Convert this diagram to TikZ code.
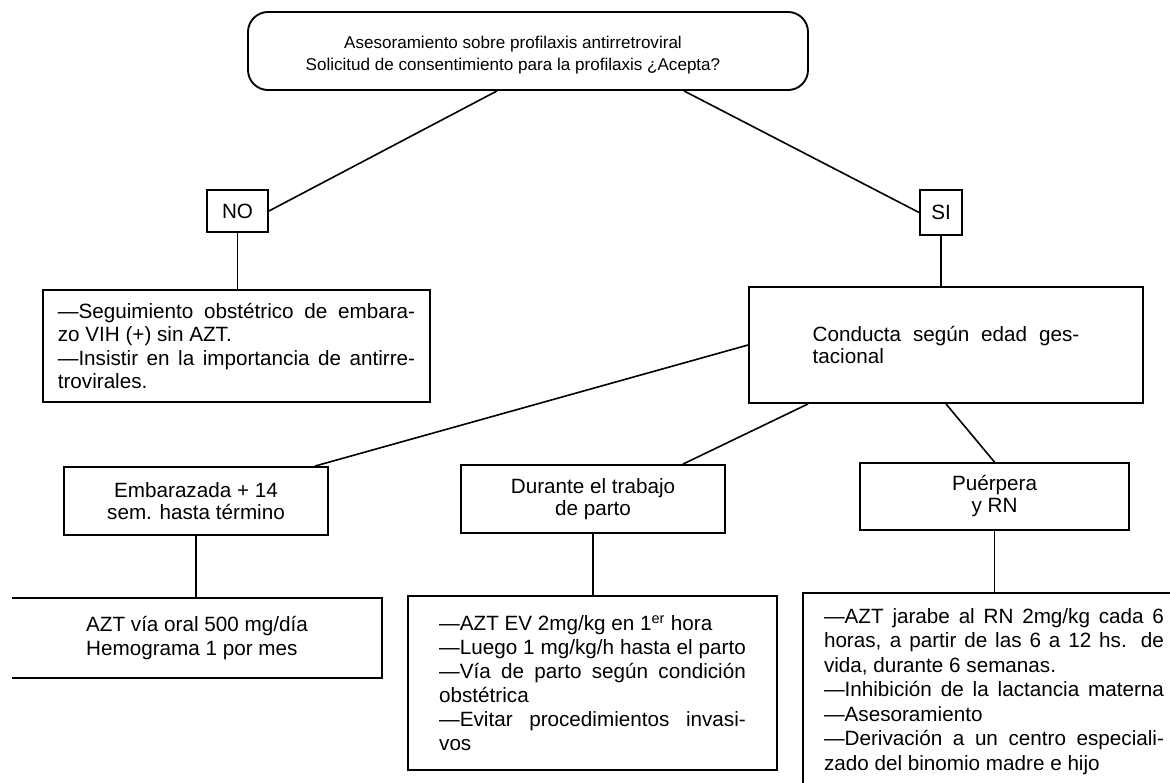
\documentclass[tikz,border=0pt]{standalone}
\usepackage{fontspec}
\setmainfont{Liberation Sans}
\newdimen\pxu \pxu=0.75pt
\newcommand\jline[2]{\makebox[#1][s]{#2}}
\begin{document}
\begin{tikzpicture}[x=0.75pt,y=-0.75pt,
  rbox/.style={draw, line width=1.4pt, inner sep=0pt},
  obox/.style={inner sep=0pt},
  bline/.style={line width=1.4pt},
  conn/.style={line width=1.2pt},
  ftop/.style={font=\fontsize{12.8pt}{16.5pt}\selectfont},
  fmid/.style={font=\fontsize{15.5pt}{16.5pt}\selectfont},
  fbody/.style={font=\fontsize{15.5pt}{18pt}\selectfont}]
\useasboundingbox (0,0) rectangle (1170,782);
\clip (0,0) rectangle (1170,782);
\fill[white] (0,0) rectangle (1170,782);

\node[rbox, rounded corners=15pt, minimum width=420pt, minimum height=58.5pt] (top) at (528,51) {};
\node[ftop, inner sep=0pt, align=center] (toptext) at (513,55)
  {Asesoramiento sobre profilaxis antirretroviral\\Solicitud de consentimiento para la profilaxis ¿Acepta?};

\node[rbox, fbody, minimum width=45.75pt, minimum height=31.5pt] (no) at (237.5,211) {NO};
\node[rbox, fbody, minimum width=31.5pt, minimum height=33.75pt] (si) at (941,212.5) {SI};

\node[rbox, font=\fontsize{15.5pt}{17.5pt}\selectfont, minimum width=290.25pt, minimum height=84pt, align=left] (noout) at (236.5,346)
  {\jline{268pt}{—Seguimiento obstétrico de embara-}\\zo VIH (+) sin AZT.\\\jline{268pt}{—Insistir en la importancia de antirre-}\\trovirales.};

\node[rbox, fmid, minimum width=295.5pt, minimum height=87pt, align=left] (cond) at (946,345)
  {\jline{200pt}{Conducta según edad ges-}\\tacional};

\node[rbox, fmid, minimum width=198pt, minimum height=51pt, align=center] (emb) at (196,501)
  {Embarazada + 14\\sem. hasta término};
\node[rbox, fmid, minimum width=198pt, minimum height=51pt, align=center] (dur) at (593,499)
  {Durante el trabajo\\de parto};
\node[rbox, fmid, minimum width=201.75pt, minimum height=50.25pt, align=center] (pue) at (994.5,496.5)
  {Puérpera\\y RN};

\node[obox, fbody, minimum width=277.5pt, minimum height=60pt, align=left] (azt) at (197,638)
  {AZT vía oral 500 mg/día\\Hemograma 1 por mes};
\draw[bline] (azt.north west) -- (azt.north east) -- (azt.south east) -- (azt.south west);

\node[rbox, fbody, minimum width=276.75pt, minimum height=130.5pt, align=left] (durb) at (592.5,683)
  {—AZT EV 2mg/kg en 1\textsuperscript{er} hora\\\jline{230pt}{—Luego 1 mg/kg/h hasta el parto}\\\jline{230pt}{—Vía de parto según condición}\\obstétrica\\\jline{230pt}{—Evitar procedimientos invasi-}\\vos};

\node[rbox, font=\fontsize{15.5pt}{18.4pt}\selectfont, minimum width=286.5pt, minimum height=147.75pt, align=left] (pueb) at (994,691.5)
  {\jline{255pt}{—AZT jarabe al RN 2mg/kg cada 6}\\\jline{255pt}{horas, a partir de las 6 a 12 hs. de}\\vida, durante 6 semanas.\\\jline{255pt}{—Inhibición de la lactancia materna}\\—Asesoramiento\\\jline{255pt}{—Derivación a un centro especiali-}\\zado del binomio madre e hijo};

\draw[conn] ([xshift=-31\pxu]top.south) -- (no.east);
\draw[conn] ([xshift=156\pxu]top.south) -- (si.west);
\draw[conn] (no.south) -- (no.south |- noout.north);
\draw[conn] (si.south) -- (si.south |- cond.north);
\draw[conn] (cond.west) -- ([xshift=119\pxu]emb.north);
\draw[conn] ([xshift=-138\pxu]cond.south) -- ([xshift=90\pxu]dur.north);
\draw[conn] (cond.south) -- (pue.north);
\draw[conn] (emb.south) -- (emb.south |- azt.north);
\draw[conn] (dur.south) -- (dur.south |- durb.north);
\draw[conn] (pue.south) -- (pue.south |- pueb.north);
\end{tikzpicture}
\end{document}
